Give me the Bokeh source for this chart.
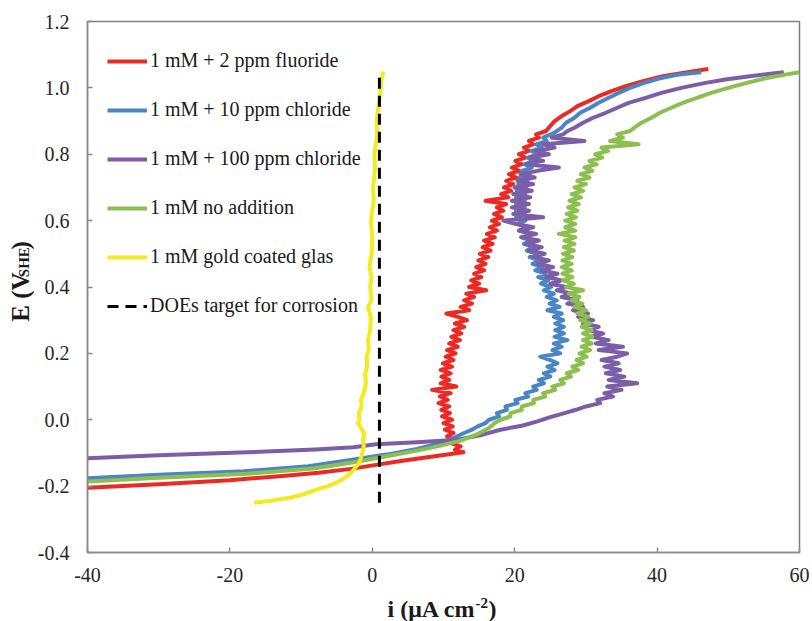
import math
from bokeh.plotting import figure
from bokeh.layouts import row, column
from bokeh.models import Range1d, Legend, LegendItem, FixedTicker, PrintfTickFormatter
from bokeh.core.properties import value
from bokeh.embed import file_html
from bokeh.resources import INLINE

# ---------------- data ----------------
red_E = [-0.205, -0.194, -0.182, -0.170, -0.160, -0.148, -0.136, -0.124, -0.115, -0.108,
         -0.098, -0.090,
         -0.08, -0.07, -0.06, -0.05, -0.04, -0.03, -0.02, -0.01, 0.00, 0.01,
         0.02, 0.03, 0.04, 0.05, 0.06, 0.07, 0.08, 0.09, 0.10, 0.11,
         0.12, 0.13, 0.14, 0.15, 0.16, 0.17, 0.18, 0.19, 0.20, 0.21,
         0.22, 0.23, 0.24, 0.25, 0.26, 0.27, 0.28, 0.29, 0.30, 0.31,
         0.32, 0.33, 0.34, 0.35, 0.36, 0.37, 0.38, 0.39, 0.40, 0.41,
         0.42, 0.43, 0.44, 0.45, 0.46, 0.47, 0.48, 0.49, 0.50, 0.51,
         0.52, 0.53, 0.54, 0.55, 0.56, 0.57, 0.58, 0.59, 0.60, 0.61,
         0.62, 0.63, 0.64, 0.65, 0.66, 0.67, 0.68, 0.69, 0.70, 0.71,
         0.72, 0.73, 0.74, 0.75, 0.76, 0.77, 0.78, 0.79, 0.80, 0.81,
         0.82, 0.83, 0.84, 0.85, 0.86, 0.87,
         0.885, 0.900, 0.915, 0.930, 0.945, 0.960, 0.975, 0.990, 1.005, 1.020,
         1.035, 1.045, 1.052, 1.057]
red_i = [-40.0, -30.0, -20.0, -13.0, -7.5, -3.0, 0.5, 4.0, 7.0, 9.5,
         12.8, 11.6,
         12.4, 11.0, 11.6, 10.5, 11.4, 10.2, 11.3, 10.0, 11.2, 9.8,
         10.9, 9.7, 10.8, 9.3, 10.6, 9.5, 11.0, 8.4, 11.8, 9.6,
         10.8, 9.7, 11.0, 9.6, 11.2, 9.9, 11.4, 10.3, 11.7, 10.5,
         12.0, 10.8, 12.3, 11.1, 12.5, 11.4, 12.9, 11.6, 13.3, 12.0,
         10.4, 13.6, 12.4, 14.0, 12.9, 14.3, 13.2, 16.0, 13.6, 15.0,
         13.9, 15.3, 14.3, 15.7, 14.6, 15.9, 14.9, 16.3, 15.1, 16.6,
         15.5, 16.9, 15.7, 17.2, 16.1, 17.5, 16.5, 17.8, 16.8, 18.2,
         17.1, 18.4, 17.5, 18.8, 15.9, 19.1, 18.1, 19.5, 18.5, 19.8,
         18.8, 20.2, 19.2, 20.6, 19.6, 21.0, 20.1, 21.5, 20.6, 22.0,
         21.3, 22.6, 22.0, 23.4, 23.0, 24.4,
         25.0, 25.6, 26.6, 27.8, 28.8, 30.4, 31.8, 33.6, 35.6, 38.0,
         40.8, 43.6, 45.6, 47.2]

blue_E = [-0.176, -0.166, -0.155, -0.140, -0.120, -0.105, -0.088, -0.070, -0.055,
          -0.04, -0.03, -0.02, -0.01, 0.00, 0.01, 0.02, 0.03, 0.04, 0.05,
          0.06, 0.07, 0.08, 0.09, 0.10, 0.11, 0.12, 0.13, 0.14, 0.15,
          0.16, 0.17, 0.18, 0.19, 0.20, 0.21, 0.22, 0.23, 0.24, 0.25,
          0.26, 0.27, 0.28, 0.29, 0.30, 0.31, 0.32, 0.33, 0.34, 0.35,
          0.36, 0.37, 0.38, 0.39, 0.40, 0.41, 0.42, 0.43, 0.44, 0.45,
          0.46, 0.47, 0.48, 0.49, 0.50, 0.51, 0.52, 0.53, 0.54, 0.55,
          0.56, 0.57, 0.58, 0.59, 0.60, 0.61, 0.62, 0.63, 0.64, 0.65,
          0.66, 0.67, 0.68, 0.69, 0.70, 0.71, 0.72, 0.73, 0.74, 0.75,
          0.76, 0.77, 0.78, 0.79, 0.80, 0.81, 0.82, 0.83, 0.84, 0.85,
          0.865, 0.880, 0.895, 0.910, 0.925, 0.940, 0.955, 0.970, 0.985, 1.000,
          1.015, 1.030, 1.040, 1.047]
blue_i = [-40.0, -30.0, -18.0, -9.0, -2.6, 2.0, 6.3, 9.6, 11.4,
          12.9, 14.0, 14.8, 15.9, 16.4, 17.8, 17.5, 18.9, 18.7, 20.4,
          20.1, 21.9, 21.5, 23.1, 22.6, 24.1, 23.4, 25.0, 24.1, 25.6,
          24.6, 26.0, 25.0, 23.6, 26.4, 25.3, 26.6, 25.5, 27.4, 25.6,
          26.9, 25.7, 26.9, 25.7, 26.8, 25.5, 26.6, 24.6, 26.3, 24.9,
          25.9, 24.5, 25.5, 24.1, 25.1, 23.7, 24.7, 23.3, 24.3, 22.9,
          23.9, 22.5, 23.5, 22.1, 23.1, 21.7, 22.7, 21.3, 22.3, 20.9,
          22.0, 20.6, 21.7, 20.4, 21.5, 20.2, 21.4, 20.2, 21.4, 20.2,
          21.4, 20.2, 21.5, 20.3, 21.6, 20.5, 21.8, 20.7, 22.1, 21.0,
          22.4, 21.4, 22.8, 21.8, 23.3, 22.4, 23.8, 23.0, 24.5, 24.0,
          25.6, 26.6, 27.2, 28.4, 29.2, 30.6, 31.8, 33.2, 34.6, 36.2,
          38.2, 40.6, 43.0, 46.2]

purple_E = [-0.116, -0.107, -0.098, -0.090, -0.083, -0.074, -0.068, -0.060, -0.045, -0.030,
            -0.018, -0.005, 0.008, 0.020, 0.030,
            0.04, 0.05, 0.06, 0.07, 0.08, 0.09, 0.10, 0.11, 0.12, 0.13,
            0.14, 0.15, 0.16, 0.17, 0.18, 0.19, 0.20, 0.21, 0.22, 0.23,
            0.24, 0.25, 0.26, 0.27, 0.28, 0.29, 0.30, 0.31, 0.32, 0.33,
            0.34, 0.35, 0.36, 0.37, 0.38, 0.39, 0.40, 0.41, 0.42, 0.43,
            0.44, 0.45, 0.46, 0.47, 0.48, 0.49, 0.50, 0.51, 0.52, 0.53,
            0.54, 0.55, 0.56, 0.57, 0.58, 0.59, 0.60, 0.61, 0.62, 0.63,
            0.64, 0.65, 0.66, 0.67, 0.68, 0.69, 0.70, 0.71, 0.72, 0.73,
            0.74, 0.75, 0.76, 0.77, 0.78, 0.79, 0.80, 0.81, 0.82, 0.83,
            0.84, 0.85, 0.86, 0.87,
            0.880, 0.895, 0.910, 0.925, 0.940, 0.955, 0.970, 0.985, 1.000, 1.015,
            1.025, 1.035, 1.042, 1.047]
purple_i = [-40.0, -30.0, -17.6, -8.0, -2.6, 0.5, 6.3, 12.0, 15.5, 18.0,
            21.0, 23.2, 25.0, 27.0, 28.6,
            30.0, 32.0, 31.6, 33.8, 32.6, 35.0, 33.0, 37.2, 33.2, 35.4,
            32.8, 34.8, 32.6, 34.6, 32.2, 34.4, 35.8, 31.8, 35.2, 31.4,
            33.2, 30.8, 32.4, 30.2, 31.8, 29.6, 31.0, 28.9, 30.3, 28.2,
            29.6, 27.4, 28.8, 26.6, 28.0, 25.9, 27.2, 25.0, 26.6, 24.4,
            26.0, 23.8, 25.4, 23.2, 24.8, 22.6, 24.2, 22.0, 23.8, 21.6,
            23.4, 21.0, 23.0, 20.6, 22.6, 20.2, 18.4, 24.0, 19.8, 22.0,
            19.6, 22.0, 19.6, 22.2, 19.8, 22.4, 20.0, 22.6, 20.4, 22.8,
            20.8, 23.2, 26.2, 21.6, 24.0, 22.2, 24.8, 23.0, 25.6, 24.0,
            29.8, 25.2, 26.8, 27.4,
            28.4, 29.6, 31.0, 32.8, 34.4, 36.0, 38.4, 40.6, 43.4, 46.8,
            49.6, 53.0, 55.6, 57.8]

green_E = [-0.186, -0.175, -0.163, -0.146, -0.128, -0.110, -0.093, -0.078, -0.063, -0.045,
           -0.025, -0.010,
           0.00, 0.01, 0.02, 0.03, 0.04, 0.05, 0.06, 0.07, 0.08, 0.09,
           0.10, 0.11, 0.12, 0.13, 0.14, 0.15, 0.16, 0.17, 0.18, 0.19,
           0.20, 0.21, 0.22, 0.23, 0.24, 0.25, 0.26, 0.27, 0.28, 0.29,
           0.30, 0.31, 0.32, 0.33, 0.34, 0.35, 0.36, 0.37, 0.38, 0.39,
           0.40, 0.41, 0.42, 0.43, 0.44, 0.45, 0.46, 0.47, 0.48, 0.49,
           0.50, 0.51, 0.52, 0.53, 0.54, 0.55, 0.56, 0.57, 0.58, 0.59,
           0.60, 0.61, 0.62, 0.63, 0.64, 0.65, 0.66, 0.67, 0.68, 0.69,
           0.70, 0.71, 0.72, 0.73, 0.74, 0.75, 0.76, 0.77, 0.78, 0.79,
           0.80, 0.81, 0.82, 0.83, 0.84, 0.85, 0.86, 0.87,
           0.880, 0.895, 0.910, 0.925, 0.940, 0.955, 0.970, 0.985, 1.000, 1.015,
           1.030, 1.040, 1.047]
green_i = [-40.0, -30.0, -17.6, -8.0, -2.6, 2.0, 6.3, 9.6, 12.4, 14.6,
           16.4, 17.2,
           18.0, 19.4, 19.4, 21.0, 21.0, 22.7, 22.6, 24.3, 24.0, 25.7,
           25.3, 26.9, 26.4, 27.9, 27.3, 28.9, 28.1, 29.6, 28.7, 30.1,
           29.1, 30.6, 29.4, 30.8, 29.6, 30.9, 29.6, 30.8, 29.4, 30.6,
           29.2, 30.3, 28.8, 30.0, 28.4, 29.5, 28.0, 29.1, 27.6, 29.6,
           27.2, 28.3, 26.8, 28.1, 26.7, 28.0, 26.6, 28.0, 26.7, 28.1,
           26.8, 28.3, 26.9, 28.4, 27.0, 28.5, 26.2, 28.5, 27.1, 28.5,
           27.1, 28.6, 27.3, 28.8, 27.5, 29.0, 27.7, 29.3, 28.0, 29.6,
           28.4, 30.0, 28.8, 30.5, 29.3, 30.9, 29.8, 31.5, 30.5, 32.3,
           31.3, 33.1, 32.2, 37.4, 33.4, 35.2, 34.4, 36.2,
           36.8, 37.8, 39.2, 40.4, 42.0, 43.6, 45.6, 47.6, 50.0, 52.6,
           55.4, 58.0, 60.0]

yellow_E = [-0.250, -0.243, -0.235, -0.224, -0.213, -0.200, -0.185, -0.168, -0.150, -0.135,
            -0.123, -0.100, -0.080, -0.060, -0.043, -0.025, -0.010, 0.000, 0.020, 0.040,
            0.060, 0.080, 0.110, 0.140, 0.160, 0.190, 0.210, 0.240, 0.270, 0.310,
            0.340, 0.360, 0.400, 0.430, 0.460, 0.500, 0.550, 0.600, 0.660, 0.700,
            0.760, 0.800, 0.860, 0.900, 0.950, 1.000, 1.030, 1.050]
yellow_i = [-16.6, -14.0, -11.6, -9.6, -8.2, -6.2, -4.6, -3.4, -2.6, -2.0,
            -1.7, -1.4, -1.2, -1.3, -1.1, -1.6, -2.0, -1.8, -1.9, -1.5,
            -1.6, -1.2, -0.9, -1.0, -0.7, -0.8, -0.5, -0.6, -0.3, -0.2,
            -0.6, -0.1, -0.3, -0.1, -0.4, -0.1, 0.0, -0.2, 0.2, 0.1,
            0.4, 0.3, 0.7, 0.6, 0.9, 1.2, 1.3, 1.6]

doe_i = [1.0, 1.0]
doe_E = [-0.25, 1.05]

labels = ["1 mM + 2 ppm fluoride", "1 mM + 10 ppm chloride", "1 mM + 100 ppm chloride",
          "1 mM no addition", "1 mM gold coated glas", "DOEs target for corrosion"]
x_ticks = [-40, -20, 0, 20, 40, 60]
y_ticks = [-0.4, -0.2, 0.0, 0.2, 0.4, 0.6, 0.8, 1.0, 1.2]
y_title = ["E (V", "SHE", ")"]
x_title = ["i (\u03bcA cm", "-2", ")"]

FONT = "Liberation Serif"
TITLE_COLOR = "#1a1a1a"

# ---------------- main plot ----------------
p = figure(width=778, height=596, output_backend="svg", toolbar_location=None,
           x_range=Range1d(-40, 60), y_range=Range1d(-0.4, 1.2),
           min_border_left=53, min_border_right=13, min_border_top=21, min_border_bottom=44)
p.background_fill_color = "white"
p.border_fill_color = "white"
p.grid.visible = False
p.outline_line_color = "#7f7f7f"
p.outline_line_width = 1.5

for ax in (p.xaxis[0], p.yaxis[0]):
    ax.axis_line_color = "#8c8c8c"
    ax.axis_line_width = 1.5
    ax.major_tick_line_color = "#8c8c8c"
    ax.major_tick_line_width = 1.5
    ax.major_tick_in = 5
    ax.major_tick_out = 0
    ax.minor_tick_in = 0
    ax.minor_tick_out = 0
    ax.major_label_text_font = FONT
    ax.major_label_text_font_size = "20px"
    ax.major_label_text_color = "#262626"
    ax.axis_label = None

p.xaxis.ticker = FixedTicker(ticks=x_ticks)
p.yaxis.ticker = FixedTicker(ticks=y_ticks)
p.xaxis.formatter = PrintfTickFormatter(format="%d")
p.yaxis.formatter = PrintfTickFormatter(format="%.1f")
p.xaxis.major_label_standoff = 15
p.yaxis.major_label_standoff = 18

colors = ["#EC2A24", "#4A86C6", "#7B5EA7", "#8CBF4F", "#F3EB1F"]
series = [(red_i, red_E), (blue_i, blue_E), (purple_i, purple_E),
          (green_i, green_E), (yellow_i, yellow_E)]
renderers = []
for (xs, ys), c in zip(series, colors):
    r = p.line(xs, ys, line_color=c, line_width=4, line_join="round")
    renderers.append(r)
rd = p.line(doe_i, doe_E, line_color="black", line_width=3, line_dash="11 7")
renderers.append(rd)

legend = Legend(items=[LegendItem(label=l, renderers=[r]) for l, r in zip(labels, renderers)],
                location=(20, 235), border_line_color=None, background_fill_alpha=0,
                padding=0, margin=0, spacing=26, glyph_width=40, glyph_height=22,
                label_height=22, label_standoff=3, label_text_font=FONT,
                label_text_font_size="20px", label_text_color="#1a1a1a")
p.add_layout(legend)

# ---------------- y-axis title panel (left strip) ----------------
yt = figure(width=34, height=596, output_backend="svg", toolbar_location=None,
            x_range=Range1d(0, 34), y_range=Range1d(0, 596), min_border=0,
            x_axis_type=None, y_axis_type=None)
yt.outline_line_color = None
yt.grid.visible = False
yt.background_fill_color = "white"
yt.border_fill_color = "white"
tkw = dict(text_font=value(FONT), text_font_style="bold", text_color=TITLE_COLOR,
           text_baseline="alphabetic", text_align="left")
yt.text(x=[19.5], y=[259], text=[y_title[0]], angle=math.pi / 2, text_font_size="25px", **tkw)
yt.text(x=[23], y=[309], text=[y_title[1]], angle=math.pi / 2, text_font_size="15px", **tkw)
yt.text(x=[19.5], y=[340], text=[y_title[2]], angle=math.pi / 2, text_font_size="25px", **tkw)

# ---------------- x-axis title panel (bottom strip) ----------------
xt = figure(width=812, height=25, output_backend="svg", toolbar_location=None,
            x_range=Range1d(0, 812), y_range=Range1d(0, 25), min_border=0,
            x_axis_type=None, y_axis_type=None)
xt.outline_line_color = None
xt.grid.visible = False
xt.background_fill_color = "white"
xt.border_fill_color = "white"
xt.text(x=[387], y=[12.5], text=[x_title[0]], text_font_size="24px", **tkw)
xt.text(x=[475], y=[19], text=[x_title[1]], text_font_size="15px", **tkw)
xt.text(x=[488], y=[12.5], text=[x_title[2]], text_font_size="24px", **tkw)

layout = column(row(yt, p, spacing=0), xt, spacing=0)
open("out.html", "w").write(file_html(layout, INLINE))
